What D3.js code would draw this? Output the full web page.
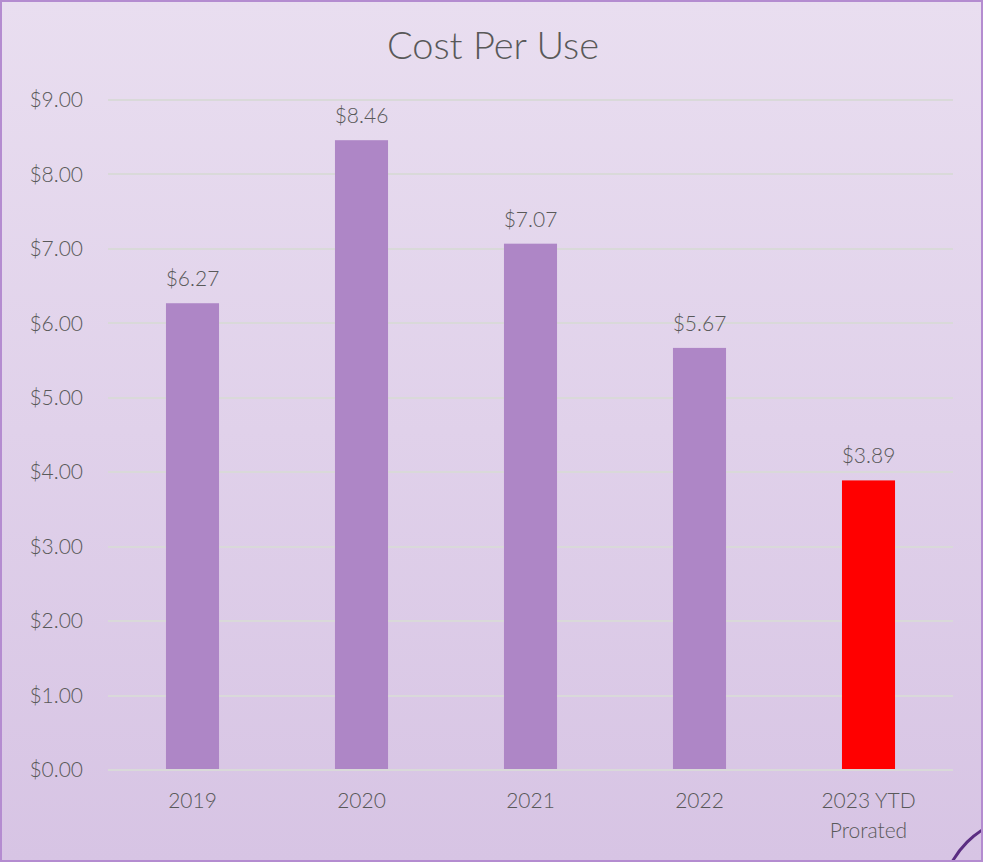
<!DOCTYPE html>
<html><head><meta charset="utf-8">
<script src="https://cdn.jsdelivr.net/npm/d3@7"></script>
<style>html,body{margin:0;padding:0;background:#fff;}</style>
</head><body>
<script>
const categories = ["2019", "2020", "2021", "2022", "2023 YTD|Prorated"];
const values = [6.27, 8.46, 7.07, 5.67, 3.89];
const barColors = ["#ae86c6", "#ae86c6", "#ae86c6", "#ae86c6", "#ff0000"];
const yTicks = [0, 1, 2, 3, 4, 5, 6, 7, 8, 9];
const title = "Cost Per Use";

const W = 983, H = 862;
const font = "'Lato', 'Open Sans', sans-serif";
const txt = "#595959";
const fs = 21;
const svg = d3.select("body").append("svg").attr("width", W).attr("height", H);
const defs = svg.append("defs");
const grad = defs.append("linearGradient").attr("id", "bg").attr("x1", 0).attr("y1", 0).attr("x2", 0).attr("y2", 1);
grad.append("stop").attr("offset", 0).attr("stop-color", "#e9def0");
grad.append("stop").attr("offset", 1).attr("stop-color", "#d7c4e4");
defs.append("clipPath").attr("id", "clip").append("rect").attr("x", 2).attr("y", 2).attr("width", W - 4).attr("height", H - 4);

svg.append("rect").attr("x", 1).attr("y", 1).attr("width", W - 2).attr("height", H - 2)
  .attr("fill", "url(#bg)").attr("stroke", "#b48cd0").attr("stroke-width", 2);

svg.append("circle").attr("clip-path", "url(#clip)").attr("cx", 1030).attr("cy", 905).attr("r", 89)
  .attr("fill", "none").attr("stroke", "#5b2d82").attr("stroke-width", 3);

const x = d3.scaleBand().domain(categories).range([108, 953]).paddingInner(0.686).paddingOuter(0.343);
const y = d3.scaleLinear().domain([0, 9]).range([770, 100]);

svg.append("text").attr("x", 493).attr("y", 59).attr("text-anchor", "middle")
  .attr("font-family", font).attr("font-weight", 300).attr("font-size", 38).attr("fill", txt).text(title);

const g = svg.append("g");
g.selectAll("line.grid").data(yTicks).join("line").attr("class", "grid")
  .attr("x1", 108).attr("x2", 953).attr("y1", d => Math.round(y(d))).attr("y2", d => Math.round(y(d)))
  .attr("stroke", "#d9d9d9").attr("stroke-width", 2);

const yAxis = svg.append("g").attr("transform", "translate(83,0)")
  .call(d3.axisLeft(y).tickValues(yTicks).tickSize(0).tickPadding(0).tickFormat(d => "$" + d3.format(".2f")(d)));
yAxis.select(".domain").remove();
yAxis.selectAll("text").attr("font-family", font).attr("font-weight", 300).attr("font-size", fs).attr("fill", txt);

g.selectAll("rect.bar").data(values).join("rect").attr("class", "bar")
  .attr("x", (d, i) => x(categories[i])).attr("width", x.bandwidth())
  .attr("y", d => y(d)).attr("height", d => y(0) - y(d) - 1)
  .attr("fill", (d, i) => barColors[i]);

g.selectAll("text.val").data(values).join("text").attr("class", "val")
  .attr("x", (d, i) => x(categories[i]) + x.bandwidth() / 2).attr("y", d => y(d) - 17)
  .attr("text-anchor", "middle").attr("font-family", font).attr("font-weight", 300).attr("font-size", fs).attr("fill", txt)
  .text(d => "$" + d3.format(".2f")(d));

const xl = g.selectAll("text.cat").data(categories).join("text").attr("class", "cat")
  .attr("text-anchor", "middle").attr("font-family", font).attr("font-weight", 300).attr("font-size", fs).attr("fill", txt)
  .attr("transform", d => `translate(${x(d) + x.bandwidth() / 2},808)`);
xl.selectAll("tspan").data(d => d.split("|")).join("tspan")
  .attr("x", 0).attr("dy", (d, i) => i === 0 ? 0 : 30)
  .attr("font-size", fs).attr("font-family", font).attr("font-weight", 300).text(d => d);
</script>
</body></html>
